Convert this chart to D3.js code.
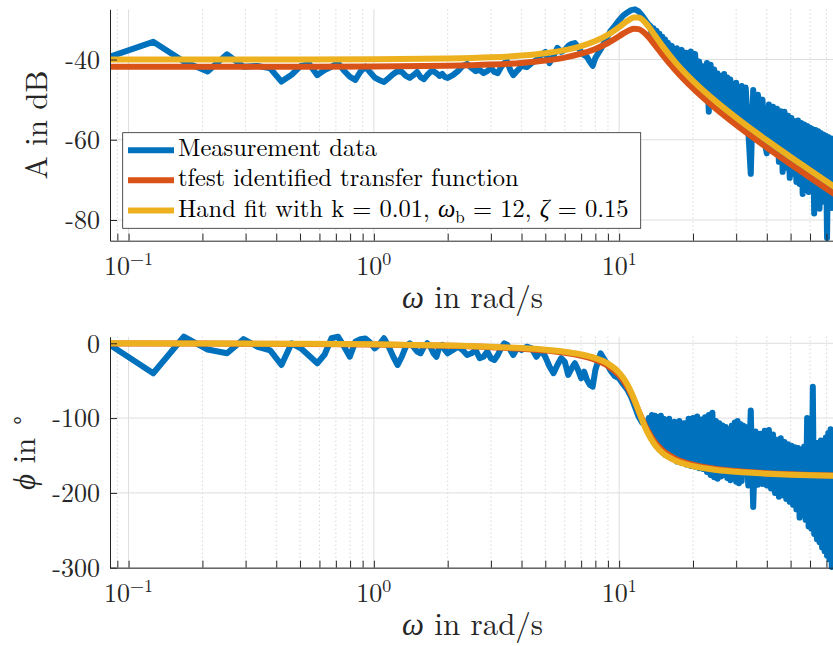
<!DOCTYPE html>
<html>
<head>
<meta charset="utf-8">
<script src="https://cdn.jsdelivr.net/npm/d3@7"></script>
<style>
  html, body { margin: 0; padding: 0; background: #ffffff; }
  svg { display: block; }
</style>
</head>
<body>
<svg id="chart" width="833" height="646"></svg>
<script>
// ---- Measured frequency response (rad/s, dB, degrees) ----
const measOmega = [
  0.084, 0.126, 0.168, 0.21, 0.252, 0.294, 0.336, 0.378, 0.42, 0.462, 0.504, 0.546,
  0.588, 0.63, 0.672, 0.714, 0.756, 0.798, 0.84, 0.882, 0.924, 0.966, 1.008,
  1.05, 1.1, 1.15, 1.2, 1.25, 1.3, 1.35, 1.4, 1.45, 1.5, 1.55, 1.6, 1.65, 1.7, 1.75, 1.8, 1.85, 1.9, 1.95, 2.0,
  2.1, 2.2, 2.3, 2.4, 2.5, 2.6, 2.7, 2.8, 2.9, 3.0, 3.1, 3.2, 3.3, 3.4, 3.5, 3.6, 3.7, 3.8, 3.9, 4.0,
  4.2, 4.4, 4.6, 4.8, 5.0, 5.2, 5.4, 5.6, 5.8, 6.0, 6.2, 6.4, 6.6, 6.8, 7.0, 7.2, 7.4, 7.6, 7.8, 8.0,
  8.4, 8.8, 9.2, 9.6, 10.0, 10.4, 10.8, 11.2, 11.6, 12.0, 12.4,
  12.8, 13.0, 13.2, 13.4, 13.6, 13.8, 14.0, 14.2, 14.4, 14.6, 14.8, 15.0, 15.2, 15.4, 15.6, 15.8, 16.0,
  16.4, 16.8, 17.2, 17.6, 18.0, 18.4, 18.8, 19.2, 19.6, 20.0, 20.4, 20.8, 21.2, 21.6, 22.0, 22.4, 22.8, 23.2, 23.6, 24.0,
  24.4, 24.8, 25.2, 25.6, 26.0, 26.4, 26.8, 27.2, 27.6, 28.0, 28.4, 28.8, 29.2, 29.6, 30.0, 30.4, 30.8, 31.2, 31.6, 32.0,
  32.8, 33.6, 34.4, 35.2, 36.0, 36.8, 37.6, 38.4, 39.2, 40.0, 40.8, 41.6, 42.4, 43.2, 44.0, 44.8, 45.6, 46.4, 47.2, 48.0,
  48.8, 49.6, 50.4, 51.2, 52.0, 52.8, 53.6, 54.4, 55.2, 56.0, 56.8, 57.6, 58.4, 59.2, 60.0, 60.8, 61.6, 62.4, 63.2, 64.0,
  64.8, 65.6, 66.4, 67.2, 68.0, 68.8, 69.6, 70.4, 71.2, 72.0, 72.8, 73.6, 74.4, 75.2, 76.0
];
const measMagDb = [
  -39.3, -35.6, -40.5, -43.0, -38.7, -41.8, -41.6, -42.2, -45.5, -43.8, -41.6, -41.2,
  -43.9, -42.6, -41.8, -40.9, -42.8, -44.3, -45.1, -43.0, -41.8, -43.2, -44.5,
  -45.1, -45.6, -44.6, -43.6, -42.9, -43.1, -44.1, -44.6, -43.9, -43.1, -44.4, -44.9, -43.9, -43.1, -42.9, -43.4, -44.1, -43.6, -44.4, -44.6,
  -43.9, -42.9, -41.6, -41.1, -42.1, -42.9, -42.6, -43.4, -42.9, -42.1, -43.1, -43.4, -41.9, -40.9, -40.6, -42.6, -43.9, -43.1, -42.4, -41.6,
  -41.9, -40.9, -40.1, -38.9, -38.1, -40.9, -39.1, -37.1, -38.1, -37.6, -36.6, -36.1, -35.9, -36.9, -38.1, -38.9, -39.4, -40.6, -41.6, -39.6,
  -37.5, -35.2, -33.0, -31.6, -30.2, -29.0, -28.3, -27.7, -27.5, -28.0, -29.0,
  -30.2, -30.8, -31.3, -31.6, -34.4, -32.2, -35.4, -32.8, -36.4, -33.6, -37.3, -34.3, -38.2, -35.0, -39.1, -35.8, -39.7,
  -36.6, -41.4, -37.2, -42.8, -37.6, -44.0, -38.3, -45.2, -38.0, -46.2, -38.6, -47.2, -40.5, -48.1, -41.7, -49.0, -40.9, -53.0, -41.3, -50.6,
  -42.5, -51.3, -43.5, -52.0, -44.2, -52.6, -43.6, -53.3, -44.5, -53.9, -45.0, -54.5, -46.2, -55.0, -45.8, -55.6, -47.1, -56.1, -46.6, -56.6,
  -47.0, -57.6, -68.5, -47.6, -59.0, -48.8, -59.8, -50.0, -60.6, -63.4, -51.2, -61.8, -51.8, -62.5, -52.3, -65.5, -52.9, -68.0, -53.0, -67.0,
  -54.0, -69.5, -54.6, -68.5, -55.4, -70.5, -55.2, -71.0, -55.8, -73.5, -56.2, -71.8, -56.6, -73.0, -57.0, -72.5, -57.4, -78.4, -57.6, -73.5,
  -57.9, -77.2, -58.3, -74.5, -58.7, -75.5, -59.0, -84.5, -59.3, -76.0, -59.6, -77.0, -59.9, -76.5, -60.2
];
const measPhaseDeg = [
  -2.3, -40.1, 8.8, -8.4, -13.4, 5.5, -4.7, -9.5, -29.0, 0.0, -6.7, -17.0,
  -26.7, -15.0, 6.7, 8.8, -4.2, -17.9, 2.0, 5.5, 6.5, 1.0, -6.7,
  -2.0, 6.7, -4.5, -18.0, -29.0, -18.0, -4.5, 0.0, -4.5, -11.0, -13.4, -4.5, 0.0, -4.5, -13.4, -18.0, -4.5, -2.2, -9.0, -13.4,
  -9.0, -4.5, -9.0, -15.6, -13.4, -9.0, -20.0, -18.0, -11.0, -20.0, -22.3, -15.6, -6.7, 0.0, -2.2, -9.0, -15.6, -9.0, -6.7, -9.0,
  -4.5, -6.7, -18.0, -9.0, -18.0, -31.0, -40.0, -29.0, -20.0, -24.5, -42.3, -33.4, -26.7, -35.6, -46.8, -37.9, -49.0, -55.7, -57.9, -35.6,
  -13.4, -24.0, -36.0, -44.0, -47.0, -55.0, -62.0, -72.0, -85.0, -98.0, -106.0,
  -110, -112, -100, -124, -96, -132, -97, -137, -99, -142, -97, -146, -101, -149, -103, -151, -101,
  -154, -105, -158, -104, -160, -107, -162, -101, -164, -100, -165, -98, -167, -102, -168, -99, -172, -96, -176, -93,
  -179, -104, -181, -107, -178, -110, -176, -112, -180, -116, -183, -110, -181, -106, -185, -104, -187, -108, -184, -110,
  -112, -190, -90, -219, -118, -189, -121, -188, -117, -190, -116, -194, -122, -200, -129, -205, -127, -203, -132, -208,
  -135, -212, -137, -216, -139, -222, -140, -233, -142, -228, -138, -236, -100, -245, -135, -248, -58, -255, -134, -262,
  -133, -266, -130, -273, -131, -278, -126, -284, -120, -289, -115, -299, -118, -290, -122
];

// ---- Fitted second-order models, sampled ----
const fitOmega = [0.084, 0.2, 0.5, 1, 2, 3, 4, 5, 6, 7, 8, 9, 10, 10.5, 11, 11.5, 12, 12.5, 13, 14, 15, 17, 20, 25, 30, 40, 50, 60, 76];
const tfestMagDb = [
  -41.8, -41.8, -41.79, -41.74, -41.57, -41.27, -40.85, -40.27, -39.52, -38.56, -37.36, -35.89, -34.20, -33.37, -32.69,
  -32.32, -32.43, -33.03, -34.00, -36.39, -38.76, -42.75, -47.22, -52.47, -56.32, -61.95, -66.11, -69.43, -73.66
];
const tfestPhaseDeg = [
  -0.14, -0.33, -0.81, -1.63, -3.34, -5.18, -7.27, -9.73, -12.77, -16.73, -22.19, -30.24, -42.84, -51.77, -62.87,
  -75.94, -90.0, -103.51, -115.24, -132.32, -142.93, -154.44, -162.32, -168.03, -170.80, -173.60, -175.05, -175.95, -176.85
];
const handMagDb = [
  -40.0, -40.0, -39.99, -39.94, -39.77, -39.47, -39.03, -38.44, -37.67, -36.68, -35.42, -33.84, -31.93, -30.93, -30.05,
  -29.51, -29.54, -30.21, -31.33, -34.03, -36.60, -40.77, -45.33, -50.63, -54.49, -60.14, -64.30, -67.62, -71.86
];
const handPhaseDeg = [
  -0.12, -0.29, -0.72, -1.44, -2.94, -4.57, -6.42, -8.60, -11.31, -14.86, -19.80, -27.22, -39.29, -48.24, -59.86,
  -74.16, -90.0, -105.23, -118.11, -135.89, -146.31, -157.12, -164.29, -169.40, -171.87, -174.35, -175.63, -176.42, -177.22
];

// ---- Axis ticks and labels ----
const xMajorTicks = [0.1, 1, 10];
const xMajorLabels = [["10", "\u22121"], ["10", "0"], ["10", "1"]];
const xMinorTicks = [0.09, 0.2, 0.3, 0.4, 0.5, 0.6, 0.7, 0.8, 0.9, 2, 3, 4, 5, 6, 7, 8, 9, 20, 30, 40, 50, 60, 70];
const magTicks = [-80, -60, -40];
const phaseTicks = [-300, -200, -100, 0];

const seriesColors = ["#0072BD", "#D95319", "#EDB120"];
const legendLabels = [
  [{ t: "Measurement data" }],
  [{ t: "tfest identified transfer function" }],
  [{ t: "Hand fit with k = 0.01, " }, { t: "\u03c9", it: true }, { t: "b", sub: true },
   { t: " = 12, ", unsub: true }, { t: "\u03b6", it: true }, { t: " = 0.15" }]
];

const FONT = "'Latin Modern Roman', 'CMU Serif', 'Liberation Serif', serif";
const svg = d3.select("#chart");
const ink = "#262626";
const X0 = 110, X1 = 835.2;
const x = d3.scaleLog().domain([0.084, 76]).range([X0, X1]);

const panels = [
  {
    id: "mag",
    y: d3.scaleLinear().domain([-85.16, -27.49]).range([240.7, 9.3]),
    ticks: magTicks,
    series: [measMagDb, tfestMagDb, handMagDb],
    yLabel: [{ t: "A in dB" }],
    yLabelX: 46.5,
    tickLabelY: 275,
    xLabelY: 308
  },
  {
    id: "phase",
    y: d3.scaleLinear().domain([-300, 8.8]).range([567.7, 336.7]),
    ticks: phaseTicks,
    series: [measPhaseDeg, tfestPhaseDeg, handPhaseDeg],
    yLabel: [{ t: "\u03d5", it: true }, { t: " in " }, { t: "\u2218", sup: true }],
    yLabelX: 35,
    tickLabelY: 602,
    xLabelY: 635
  }
];

panels.forEach(p => {
  const y = p.y;
  const [yBottom, yTop] = y.range();
  const g = svg.append("g").attr("class", "panel-" + p.id);

  // clip to the plotting area (a little slack vertically for the stroke caps)
  g.append("clipPath").attr("id", "clip-" + p.id)
    .append("rect")
    .attr("x", X0).attr("y", yTop - 4)
    .attr("width", X1 - X0).attr("height", yBottom - yTop + 8);

  // minor grid (dotted)
  g.append("g").selectAll("line").data(xMinorTicks).join("line")
    .attr("x1", d => x(d)).attr("x2", d => x(d))
    .attr("y1", yTop).attr("y2", yBottom)
    .attr("stroke", "#c4c4c4").attr("stroke-width", 0.8)
    .attr("stroke-dasharray", "1.2,2.8");

  // major grid
  g.append("g").selectAll("line").data(xMajorTicks).join("line")
    .attr("x1", d => x(d)).attr("x2", d => x(d))
    .attr("y1", yTop).attr("y2", yBottom)
    .attr("stroke", "#dedede").attr("stroke-width", 1);
  g.append("g").selectAll("line").data(p.ticks).join("line")
    .attr("x1", X0).attr("x2", X1)
    .attr("y1", d => y(d)).attr("y2", d => y(d))
    .attr("stroke", "#dedede").attr("stroke-width", 1);

  // data lines
  const lines = g.append("g").attr("clip-path", "url(#clip-" + p.id + ")");
  const measLine = d3.line()
    .x((d, i) => x(measOmega[i]))
    .y(d => y(d));
  const fitLine = d3.line()
    .x((d, i) => x(fitOmega[i]))
    .y(d => y(d))
    .curve(d3.curveMonotoneX);
  p.series.forEach((vals, si) => {
    lines.append("path")
      .attr("d", si === 0 ? measLine(vals) : fitLine(vals))
      .attr("fill", "none")
      .attr("stroke", seriesColors[si])
      .attr("stroke-width", 6)
      .attr("stroke-linejoin", "round")
      .attr("stroke-linecap", "round");
  });

  // y axis
  const yAxis = g.append("g")
    .attr("transform", `translate(${X0},0)`)
    .call(d3.axisLeft(y).tickValues(p.ticks).tickSize(-7).tickSizeOuter(0).tickPadding(10)
      .tickFormat(d => d === 0 ? "0" : "-" + Math.abs(d)));
  yAxis.attr("font-family", null).attr("font-size", null);
  yAxis.select(".domain").attr("stroke", ink).attr("stroke-width", 1);
  yAxis.selectAll(".tick line").attr("stroke", ink).attr("stroke-width", 1);
  yAxis.selectAll(".tick text")
    .attr("fill", ink)
    .style("font-family", FONT)
    .style("font-size", "26px")
    .attr("dy", "0.34em");

  // x axis
  const xAxis = g.append("g")
    .attr("transform", `translate(0,${yBottom})`)
    .call(d3.axisBottom(x).tickValues(xMajorTicks.concat(xMinorTicks)).tickSize(-7).tickSizeOuter(0)
      .tickFormat(""));
  xAxis.select(".domain").attr("stroke", ink).attr("stroke-width", 1);
  xAxis.selectAll(".tick line").attr("stroke", ink).attr("stroke-width", 1);

  // x tick labels with exponent
  const xl = g.append("g").selectAll("text").data(xMajorTicks).join("text")
    .attr("x", d => x(d)).attr("y", p.tickLabelY)
    .attr("text-anchor", "middle")
    .attr("fill", ink)
    .style("font-family", FONT)
    .style("font-size", "26px");
  xl.append("tspan").text((d, i) => xMajorLabels[i][0]);
  xl.append("tspan").attr("dy", -10).style("font-size", "18px").text((d, i) => xMajorLabels[i][1]);

  // x axis title
  const xt = g.append("text")
    .attr("x", (X0 + X1) / 2).attr("y", p.xLabelY)
    .attr("text-anchor", "middle").attr("fill", ink)
    .style("font-family", FONT).style("font-size", "31px");
  xt.append("tspan").style("font-style", "italic").text("\u03c9");
  xt.append("tspan").text(" in rad/s");

  // y axis title
  const yt = g.append("text")
    .attr("transform", `translate(${p.yLabelX},${(yTop + yBottom) / 2}) rotate(-90)`)
    .attr("text-anchor", "middle").attr("fill", ink)
    .style("font-family", FONT).style("font-size", "31px");
  p.yLabel.forEach(seg => {
    const ts = yt.append("tspan").text(seg.t);
    if (seg.it) ts.style("font-style", "italic");
    if (seg.sup) ts.attr("dy", -12).style("font-size", "21px");
  });
});

// legend in the magnitude panel
const legend = svg.append("g").attr("class", "legend");
legend.append("rect")
  .attr("x", 122.7).attr("y", 132.7).attr("width", 518).attr("height", 95.6)
  .attr("fill", "#ffffff").attr("stroke", ink).attr("stroke-width", 0.8);
const rowY = [150.3, 180.3, 210.5];
legendLabels.forEach((segs, i) => {
  legend.append("line")
    .attr("x1", 128).attr("x2", 174).attr("y1", rowY[i]).attr("y2", rowY[i])
    .attr("stroke", seriesColors[i]).attr("stroke-width", 6);
  const t = legend.append("text")
    .attr("x", 178).attr("y", rowY[i] + 6)
    .attr("fill", "#000000")
    .style("font-family", FONT).style("font-size", "24.5px");
  segs.forEach(seg => {
    const ts = t.append("tspan").text(seg.t);
    if (seg.it) ts.style("font-style", "italic");
    if (seg.sub) ts.attr("dy", 6).style("font-size", "17px");
    if (seg.unsub) ts.attr("dy", -6);
  });
});
</script>
</body>
</html>
